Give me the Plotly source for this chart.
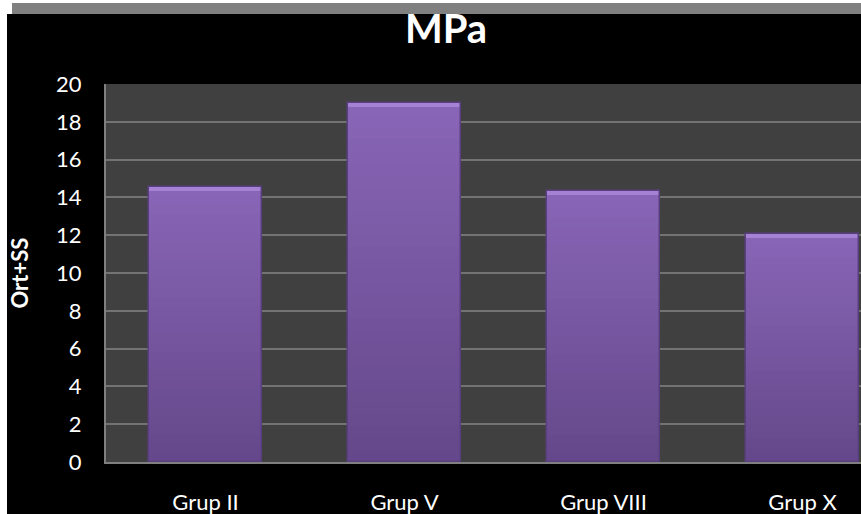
import plotly.graph_objects as go

categories = ["Grup II", "Grup V", "Grup VIII", "Grup X"]
values = [14.57, 19.0, 14.34, 12.05]
y_ticks = [0, 2, 4, 6, 8, 10, 12, 14, 16, 18, 20]

W, H = 861, 514
L, T, B = 106, 84, 52
PW = W - L
PH = H - T - B

def px_x(p):
    return (p - L) / PW

def px_y(p):
    return (H - B - p) / PH

def blend(c1, c2, t):
    return "#%02x%02x%02x" % tuple(int(round(a + (b - a) * t)) for a, b in zip(c1, c2))

bottom_col = (0x65, 0x48, 0x8b)
top_col = (0x88, 0x65, 0xb6)

BW = 0.568
fig = go.Figure()
N = 30
for k in range(N):
    frac = 1 - k / N
    t = 1 - k / (N - 1)
    fig.add_trace(go.Bar(
        x=categories,
        y=[v * frac for v in values],
        width=BW,
        marker=dict(color=blend(bottom_col, top_col, t), line=dict(width=0)),
        hoverinfo="skip",
        showlegend=False,
    ))
# light bevel at the top of each bar
bevel = 0.22
fig.add_trace(go.Bar(
    x=categories, y=[bevel] * len(values), base=[v - bevel for v in values], width=BW,
    marker=dict(color="#a582d4", line=dict(width=0)),
    showlegend=False, hoverinfo="skip",
))
# outline
fig.add_trace(go.Bar(
    x=categories, y=values, width=BW,
    marker=dict(color="rgba(0,0,0,0)", line=dict(color="#5a3f80", width=1.5)),
    showlegend=False, hoverinfo="skip",
))

shapes = [
    dict(type="rect", xref="paper", yref="paper", x0=px_x(0), x1=px_x(7), y0=px_y(H), y1=px_y(0),
         fillcolor="white", line=dict(width=0), layer="below"),
    dict(type="rect", xref="paper", yref="paper", x0=px_x(7), x1=px_x(W), y0=px_y(3), y1=px_y(0),
         fillcolor="white", line=dict(width=0), layer="below"),
    dict(type="rect", xref="paper", yref="paper", x0=px_x(7), x1=px_x(12), y0=px_y(14), y1=px_y(3),
         fillcolor="white", line=dict(width=0), layer="below"),
    dict(type="rect", xref="paper", yref="paper", x0=px_x(12), x1=px_x(W), y0=px_y(14), y1=px_y(3),
         fillcolor="#808080", line=dict(width=0), layer="below"),
]

fig.update_layout(
    width=W, height=H,
    margin=dict(l=L, r=0, t=T, b=B, pad=0, autoexpand=False),
    paper_bgcolor="black",
    plot_bgcolor="#404040",
    barmode="overlay",
    bargap=0,
    shapes=shapes,
    font=dict(family="Lato", color="white"),
    title=dict(text="<b>MPa</b>", x=446 / W, xanchor="center", y=1 - 29 / H, yanchor="middle",
               font=dict(family="Lato", size=40, color="white")),
    xaxis=dict(range=[-0.5, 3.294], showgrid=False, showline=True, linecolor="#7f7f7f",
               linewidth=2, ticks="", tickfont=dict(size=22, color="white"),
               ticklabelstandoff=20, automargin=False, fixedrange=True),
    yaxis=dict(range=[0, 20], tickvals=y_ticks, showgrid=True, gridcolor="#737373", gridwidth=2,
               showline=True, linecolor="#7f7f7f", linewidth=2, ticks="", zeroline=False,
               tickfont=dict(size=22, color="white"), ticklabelstandoff=18, automargin=False),
    annotations=[dict(text="<b>Ort+SS</b>", textangle=-90, xref="paper", yref="paper",
                      x=px_x(18.5), y=0.5, xanchor="center", yanchor="middle", showarrow=False,
                      font=dict(family="Lato", size=22, color="white"))],
)

fig.write_html("out.html")
